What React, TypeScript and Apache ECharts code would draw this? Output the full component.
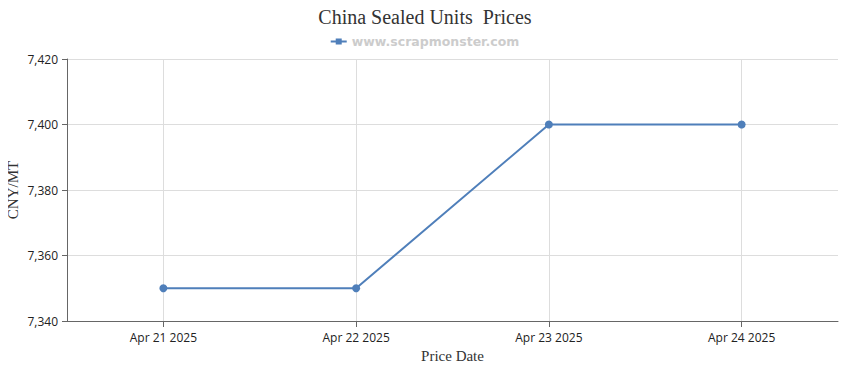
import React, { useEffect, useRef } from "react";
import * as echarts from "echarts";

const categories = ["Apr 21 2025", "Apr 22 2025", "Apr 23 2025", "Apr 24 2025"];
const prices = [7350, 7350, 7400, 7400];
const seriesName = "www.scrapmonster.com";
const titleText = "China Sealed Units  Prices";

export default function App() {
  const ref = useRef<HTMLDivElement>(null);
  useEffect(() => {
    if (!ref.current) return;
    const chart = echarts.init(ref.current, null, { renderer: "svg" });
    chart.setOption({
      animation: false,
      backgroundColor: "#ffffff",
      title: {
        text: titleText,
        left: "center",
        top: 2,
        textStyle: { fontFamily: "Liberation Serif", fontSize: 20, fontWeight: "normal", color: "#333" },
      },
      legend: {
        top: 30,
        left: "center",
        itemWidth: 16,
        itemHeight: 6,
        itemGap: 6,
        textStyle: { fontFamily: "DejaVu Sans", fontSize: 12.5, fontWeight: "bold", color: "#cccccc" },
        data: [{ name: seriesName, icon: "path://M0,2H16V4H0Z M5,0H11V6H5Z" }],
      },
      grid: { left: 67, right: 12, top: 59, bottom: 49, containLabel: false, outerBoundsMode: "none" },
      xAxis: {
        type: "category",
        data: categories,
        boundaryGap: true,
        name: "Price Date",
        nameLocation: "middle",
        nameGap: 27,
        nameTextStyle: { fontFamily: "Liberation Serif", fontSize: 15, color: "#333" },
        axisLine: { lineStyle: { color: "#666", width: 1 } },
        axisTick: { show: true, alignWithLabel: true, length: 6, lineStyle: { color: "#666" } },
        axisLabel: { fontFamily: "Open Sans", fontSize: 12, color: "#222", margin: 10 },
        splitLine: { show: false },
      },
      yAxis: {
        type: "value",
        min: 7340,
        max: 7420,
        interval: 20,
        name: "CNY/MT",
        nameLocation: "middle",
        nameGap: 47,
        nameMoveOverlap: false,
        nameTextStyle: { fontFamily: "Liberation Serif", fontSize: 15, color: "#333" },
        axisLine: { show: true, lineStyle: { color: "#666", width: 1 } },
        axisTick: { show: true, length: 5, lineStyle: { color: "#666" } },
        axisLabel: {
          fontFamily: "Open Sans",
          fontSize: 12,
          color: "#222",
          margin: 9,
          formatter: (v: number) => v.toLocaleString("en-US"),
        },
        splitLine: { show: true, lineStyle: { color: "#dddddd", width: 1 } },
      },
      series: [
        {
          name: seriesName,
          type: "line",
          data: prices,
          symbol: "circle",
          symbolSize: 8,
          lineStyle: { color: "#4f7fba", width: 2 },
          itemStyle: { color: "#4f7fba" },
          markLine: {
            silent: true,
            symbol: "none",
            label: { show: false },
            lineStyle: { color: "#dddddd", width: 1, type: "solid" },
            z: 0,
            data: categories.map((c) => ({ xAxis: c })),
          },
        },
      ],
    });
    return () => chart.dispose();
  }, []);
  return <div ref={ref} style={{ width: 850, height: 370, margin: -8 }} />;
}
